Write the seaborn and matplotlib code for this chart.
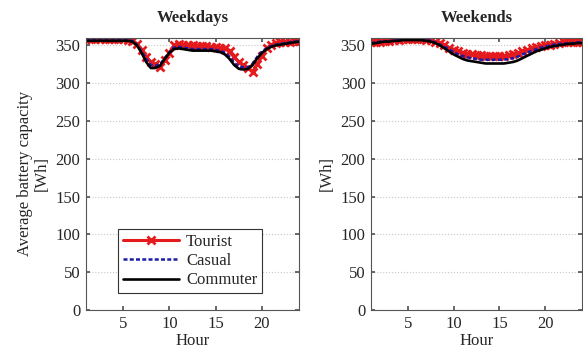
import numpy as np
import pandas as pd
import seaborn as sns
import matplotlib.pyplot as plt

# half-hour steps from 1 h to 24 h
hours = np.arange(1, 24.5, 0.5)

wd_tourist = [358, 358, 358, 358, 358, 358, 358, 358, 358, 357, 356,
              352, 344, 335, 328, 325, 322, 330, 340, 350, 352,
              351, 350, 350, 349, 349, 349, 348, 348, 347, 346,
              342, 335, 328, 324, 320, 315, 325, 336, 346, 351,
              353, 354, 355, 355, 356, 356]
wd_casual = [357, 357, 357, 357, 357, 357, 357, 357, 357, 357, 356,
             351, 342, 332, 324, 323, 325, 333, 341, 347, 348,
             347, 346, 345, 345, 345, 345, 345, 344, 343, 340,
             335, 327, 322, 321, 321, 326, 335, 342, 346, 349,
             351, 352, 353, 354, 355, 355]
wd_commuter = [356, 356, 356, 356, 356, 356, 356, 356, 356, 356, 355,
               350, 340, 328, 320, 320, 323, 332, 340, 345, 346,
               345, 344, 343, 343, 343, 343, 343, 342, 341, 338,
               332, 324, 319, 318, 319, 324, 333, 340, 345, 348,
               350, 351, 352, 353, 354, 355]

we_tourist = [354, 354.5, 355, 356, 356, 357, 357, 358, 358, 358, 358, 358, 357, 357, 355,
              353, 350, 347, 344, 342, 340, 339, 338, 337, 337,
              336, 336, 336, 336, 336, 337, 338, 340, 342, 344,
              346, 348, 349, 350, 351, 352, 353, 354, 354, 355,
              355, 355]
we_casual = [353, 354, 355, 355, 356, 356, 357, 357, 358, 358, 358, 357, 357, 356, 354,
             351, 348, 345, 341, 338, 336, 334, 333, 332, 331,
             331, 331, 331, 331, 331, 332, 333, 335, 338, 340,
             343, 345, 347, 348, 350, 351, 352, 352, 353, 353,
             354, 354]
we_commuter = [352, 353, 354, 355, 355, 356, 356, 357, 357, 357, 357, 357, 356, 355, 353,
               350, 346, 342, 338, 335, 332, 330, 329, 328, 327,
               326, 326, 326, 326, 326, 327, 328, 330, 333, 336,
               339, 342, 344, 346, 348, 349, 350, 351, 352, 352,
               353, 353]

sns.set_theme(style="ticks")
plt.rcParams['font.family'] = ['Liberation Serif', 'DejaVu Serif']
plt.rcParams['font.size'] = 12

fig = plt.figure(figsize=(5.83, 3.54), dpi=100)
ax1 = fig.add_axes([0.1475, 0.1243, 0.3654, 0.769])
ax2 = fig.add_axes([0.6364, 0.1243, 0.3619, 0.769])

panels = [
    (ax1, 'Weekdays', wd_tourist, wd_casual, wd_commuter),
    (ax2, 'Weekends', we_tourist, we_casual, we_commuter),
]

red = '#e41a1c'
for ax, title, tour, cas, com in panels:
    sns.lineplot(x=hours, y=tour, ax=ax, color=red, linewidth=2.2,
                 marker='x', markersize=6, markeredgewidth=2,
                 markeredgecolor=red, label='Tourist')
    sns.lineplot(x=hours, y=cas, ax=ax, color='#1c1ca8', linewidth=1.8,
                 label='Casual')
    ax.lines[-1].set_linestyle((0, (1.6, 0.9)))
    sns.lineplot(x=hours, y=com, ax=ax, color='black', linewidth=1.9,
                 label='Commuter')
    ax.set_xlim(1, 24)
    ax.set_ylim(0, 360)
    ax.set_xticks([5, 10, 15, 20])
    ax.set_yticks(np.arange(0, 351, 50))
    ax.yaxis.grid(True, linestyle=':', color='#c8c8c8', linewidth=0.8)
    ax.tick_params(direction='in', top=True, right=True, length=3,
                   labelsize=12, pad=4, color='#555555')
    for s in ax.spines.values():
        s.set_color('#555555')
        s.set_linewidth(0.8)
    ax.set_title(title, fontsize=12, fontweight='bold', pad=11)
    ax.set_xlabel('Hour', fontsize=12, labelpad=1)

ax1.set_ylabel('Average battery capacity\n[Wh]', fontsize=12, linespacing=1.1)
ax2.set_ylabel('[Wh]', fontsize=12)
ax2.get_legend().remove()

leg = ax1.legend(loc='lower left', bbox_to_anchor=(0.11, 0.03), fontsize=12,
                 handlelength=3.4, frameon=True, fancybox=False, framealpha=1,
                 edgecolor='#333333', borderpad=0.3, labelspacing=0.2,
                 handletextpad=0.4)
leg.get_frame().set_linewidth(0.8)
leg.get_lines()[1].set_linestyle((0, (1.6, 0.9)))

fig.savefig('out.png', dpi=100)
